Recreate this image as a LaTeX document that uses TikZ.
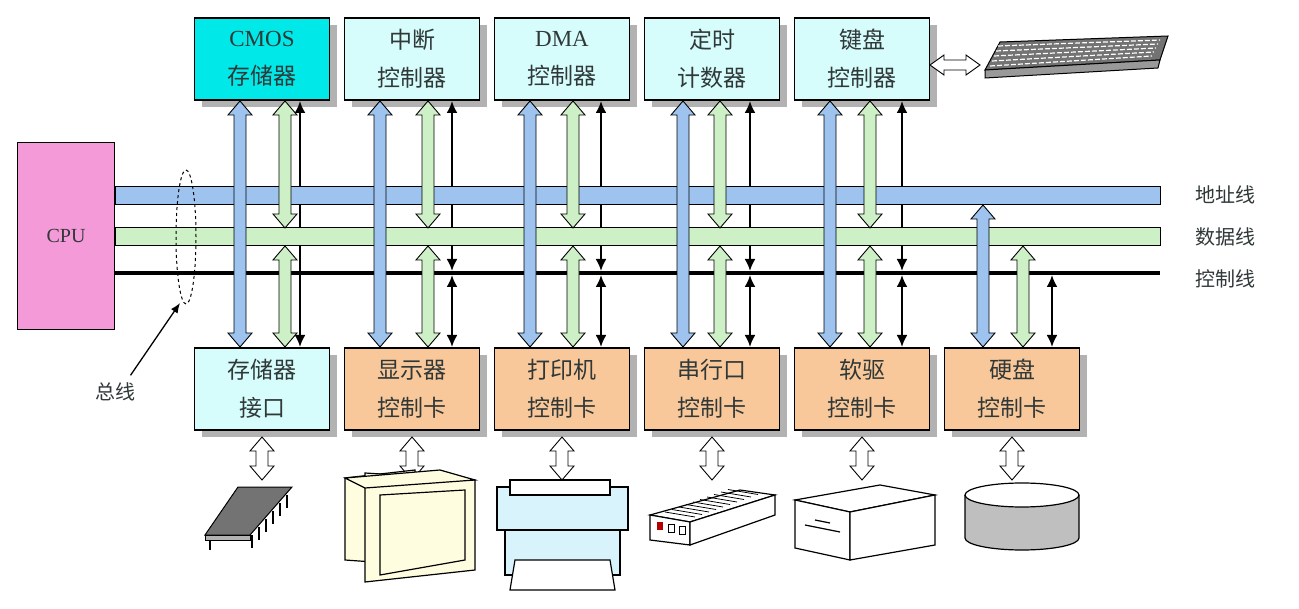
\documentclass[tikz,border=0pt]{standalone}
\usepackage{fontspec}
\setmainfont{Liberation Serif}
\newfontfamily\cjk{Noto Sans CJK SC}
\usetikzlibrary{shadows,arrows.meta}
\definecolor{cyanA}{HTML}{00E8E8}
\definecolor{cyanB}{HTML}{D6FCFC}
\definecolor{peach}{HTML}{F9C89A}
\definecolor{busblue}{HTML}{9DC3EE}
\definecolor{busgreen}{HTML}{CDF0C6}
\definecolor{cpupink}{HTML}{F49AD8}
\definecolor{txt}{HTML}{303838}
\newcommand\vdarr[4]{\filldraw[fill=#4,draw=black,line width=0.9pt] (#1-6,#2+14) -- (#1-12,#2+14) -- (#1,#2) -- (#1+12,#2+14) -- (#1+6,#2+14) -- (#1+6,#3-14) -- (#1+12,#3-14) -- (#1,#3) -- (#1-12,#3-14) -- (#1-6,#3-14) -- cycle;}
\newcommand\hdarr[4]{\filldraw[fill=#4,draw=black,line width=0.9pt] (#2+14,#1-5) -- (#2+14,#1-10) -- (#2,#1) -- (#2+14,#1+10) -- (#2+14,#1+5) -- (#3-14,#1+5) -- (#3-14,#1+10) -- (#3,#1) -- (#3-14,#1-10) -- (#3-14,#1-5) -- cycle;}
\begin{document}
\begin{tikzpicture}[x=1pt,y=-1pt,
  box/.style={draw=black,line width=1.6pt,minimum width=135pt,minimum height=82pt,align=center,
    font=\cjk\fontsize{23}{38}\selectfont,text=txt,
    drop shadow={shadow xshift=7pt,shadow yshift=-7pt,fill=black!30,opacity=1}},
  lbl/.style={font=\cjk\fontsize{20}{24}\selectfont,text=txt}]
\useasboundingbox (0,0) rectangle (1299,609);
\fill[white] (0,0) rectangle (1299,609);
% boxes
\node[box,fill=cyanA] (cmos) at (262,59) {\rmfamily CMOS\\存储器};
\node[box,fill=cyanB] (int) at (412,59) {中断\\控制器};
\node[box,fill=cyanB] (dma) at (562,59) {\rmfamily DMA\\控制器};
\node[box,fill=cyanB] (tim) at (712,59) {定时\\计数器};
\node[box,fill=cyanB] (kbd) at (862,59) {键盘\\控制器};
\node[box,fill=cyanB] (mem) at (262,389) {存储器\\接口};
\node[box,fill=peach] (disp) at (412,389) {显示器\\控制卡};
\node[box,fill=peach] (prn) at (562,389) {打印机\\控制卡};
\node[box,fill=peach] (ser) at (712,389) {串行口\\控制卡};
\node[box,fill=peach] (fdd) at (862,389) {软驱\\控制卡};
\node[box,fill=peach] (hdd) at (1012,389) {硬盘\\控制卡};
\node[draw=black,line width=1.6pt,fill=cpupink,minimum width=97pt,minimum height=187pt,font=\rmfamily\fontsize{20}{24}\selectfont,text=txt] (cpu) at (66,236) {CPU};
% black control arrows (behind buses)
\draw[line width=2.2pt,-{Latex[length=12pt,width=11pt]}] (300,273) -- (300,101);
\draw[line width=2.2pt,-{Latex[length=12pt,width=11pt]}] (300,273) -- (300,347);
\foreach \x in {452,601,750,902}{
 \draw[line width=2.2pt,{Latex[length=12pt,width=11pt]}-{Latex[length=12pt,width=11pt]}] (\x,271) -- (\x,101);
 \draw[line width=2.2pt,{Latex[length=12pt,width=11pt]}-{Latex[length=12pt,width=11pt]}] (\x,275) -- (\x,347);}
\draw[line width=2.2pt,{Latex[length=12pt,width=11pt]}-{Latex[length=12pt,width=11pt]}] (1052,275) -- (1052,347);
% buses
\draw[line width=1pt,fill=busblue] (115,187) rectangle (1160,205);
\draw[line width=1pt,fill=busgreen] (115,228) rectangle (1160,246);
\draw[line width=4pt] (115,273) -- (1160,273);
% blue arrows
\foreach \x in {240,380,530,683,830}{\vdarr{\x}{101}{347}{busblue}}
\vdarr{983}{205}{347}{busblue}
% green arrows
\foreach \x in {285,428,573,720,870}{\vdarr{\x}{101}{228}{busgreen}}
\foreach \x in {285,428,573,720,870,1023}{\vdarr{\x}{246}{347}{busgreen}}
% labels
\node[lbl] (la) at (1225,195) {地址线};
\node[lbl] (ld) at (1225,237) {数据线};
\node[lbl] (lc) at (1225,279) {控制线};
\draw[dashed,line width=1pt] (186,237) ellipse (10pt and 67pt);
\node[lbl] (zx) at (115,392) {总线};
\coordinate (ze) at (180,303);
\draw[line width=1.3pt,-{Latex[length=10pt,width=8pt]}] (zx.north east) ++(-8,-4) -- (ze);
% device arrows
\foreach \x in {262,412,562,712,862,1012}{\vdarr{\x}{437}{480}{white}}
\hdarr{65}{930}{980}{white}
% keyboard
\filldraw[fill=black!55,line width=1pt] (1000,42) -- (1168,36) -- (1160,60) -- (985,70) -- cycle;
\filldraw[fill=black!40,line width=1pt] (985,70) -- (1160,60) -- (1158,68) -- (985,78) -- cycle;
\foreach \i in {0,...,4}{\draw[white,line width=1.2pt,dash pattern=on 5pt off 2pt] (998-2*\i,46+5*\i) -- (1160-2*\i,40+4*\i);}
% chip
\filldraw[fill=black!55,line width=1pt] (238,487) -- (292,487) -- (250,535) -- (205,535) -- cycle;
\filldraw[fill=black!30,line width=1pt] (205,535) -- (250,535) -- (250,540) -- (205,540) -- cycle;
\foreach \i in {0,...,5}{\draw[line width=1.2pt] (252+7*\i,535-8*\i) -- (252+7*\i,548-8*\i);}
\draw[line width=1.2pt] (210,540) -- (210,550);
% monitor
\filldraw[fill=yellow!12,line width=1.2pt] (345,478) -- (415,470) -- (415,565) -- (345,560) -- cycle;
\filldraw[fill=yellow!12,line width=1.2pt] (365,473) -- (475,480) -- (475,570) -- (365,582) -- cycle;
\filldraw[fill=yellow!12,line width=1.2pt] (345,478) -- (440,470) -- (475,480) -- (365,488) -- cycle;
\draw[line width=1.2pt] (380,495) -- (465,490) -- (465,560) -- (380,575) -- cycle;
% printer
\filldraw[fill=cyan!15,line width=1.2pt] (497,487) rectangle (628,530);
\filldraw[fill=white,line width=1.2pt] (510,480) rectangle (610,495);
\filldraw[fill=cyan!15,line width=1.2pt] (505,530) -- (620,530) -- (620,575) -- (505,575) -- cycle;
\filldraw[fill=white,line width=1.2pt] (515,560) -- (610,560) -- (615,590) -- (510,590) -- cycle;
% modem
\filldraw[fill=white,line width=1.2pt] (650,515) -- (740,490) -- (775,495) -- (690,522) -- cycle;
\filldraw[fill=white,line width=1.2pt] (650,515) -- (690,522) -- (690,545) -- (650,540) -- cycle;
\filldraw[fill=white,line width=1.2pt] (690,522) -- (775,495) -- (775,515) -- (690,545) -- cycle;
\foreach \i in {0,...,9}{\draw[line width=0.8pt] (665+7*\i,512-2.5*\i) -- (695+7*\i,517-2.5*\i);}
\fill[red!70!black] (657,522) rectangle (663,530);
\draw[line width=0.8pt] (668,524) rectangle (674,532) (679,526) rectangle (685,534);
% floppy drive
\filldraw[fill=white,line width=1.2pt] (795,500) -- (880,485) -- (935,495) -- (850,512) -- cycle;
\filldraw[fill=white,line width=1.2pt] (795,500) -- (850,512) -- (850,560) -- (795,548) -- cycle;
\filldraw[fill=white,line width=1.2pt] (850,512) -- (935,495) -- (935,545) -- (850,560) -- cycle;
\draw[line width=1.2pt] (805,525) -- (840,532) (815,520) -- (830,523);
% hard disk
\filldraw[fill=black!25,line width=1.2pt] (965,495) -- (965,538) arc[start angle=180,end angle=360,x radius=57pt,y radius=12pt] -- (1079,495);
\filldraw[fill=white,line width=1.2pt] (1022,495) ellipse (57pt and 12pt);
\end{tikzpicture}
\end{document}
